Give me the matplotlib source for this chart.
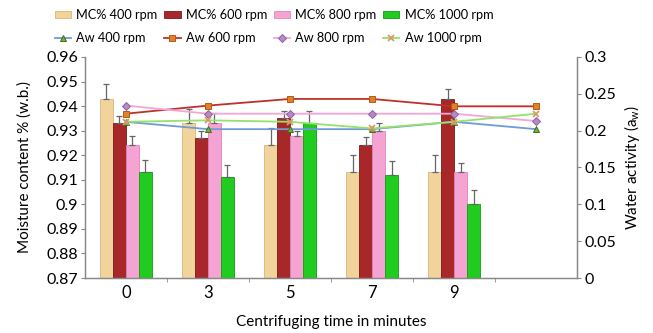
import numpy as np
import matplotlib.pyplot as plt

plt.rcParams['font.family'] = ['Lato', 'DejaVu Sans']

times = ["0", "3", "5", "7", "9", ""]

# moisture content (left axis), 5 time points
mc_400 = [0.943, 0.933, 0.924, 0.913, 0.913]
mc_600 = [0.933, 0.927, 0.935, 0.924, 0.943]
mc_800 = [0.924, 0.933, 0.928, 0.930, 0.913]
mc_1000 = [0.913, 0.911, 0.933, 0.912, 0.900]

err_400 = [0.006, 0.006, 0.007, 0.007, 0.007]
err_600 = [0.003, 0.003, 0.003, 0.0035, 0.004]
err_800 = [0.004, 0.004, 0.002, 0.003, 0.004]
err_1000 = [0.005, 0.005, 0.005, 0.0055, 0.006]

# water activity (right axis), 6 points
aw_400 = [0.212, 0.202, 0.202, 0.202, 0.212, 0.202]
aw_600 = [0.223, 0.234, 0.243, 0.243, 0.233, 0.233]
aw_800 = [0.234, 0.223, 0.223, 0.223, 0.223, 0.213]
aw_1000 = [0.212, 0.214, 0.212, 0.203, 0.212, 0.223]

bar_series = [
    ("MC% 400 rpm", mc_400, err_400, "#f3d39c", "#d9b57a"),
    ("MC% 600 rpm", mc_600, err_600, "#a8282a", "#7a1a1c"),
    ("MC% 800 rpm", mc_800, err_800, "#f5a3d3", "#e084bd"),
    ("MC% 1000 rpm", mc_1000, err_1000, "#1fcc1f", "#129a12"),
]
line_series = [
    ("Aw 400 rpm", aw_400, "#6f9bd6", "^", "#7cae3a", "#3c6f1a"),
    ("Aw 600 rpm", aw_600, "#c0302a", "s", "#e0812a", "#b45a14"),
    ("Aw 800 rpm", aw_800, "#f2a6d6", "D", "#b58ac6", "#8d62a3"),
    ("Aw 1000 rpm", aw_1000, "#93e26a", "x", "#d89a6a", "#d89a6a"),
]

fig = plt.figure(figsize=(6.53, 3.33), dpi=100)
ax = fig.add_axes([0.130, 0.165, 0.754, 0.664])
ax2 = ax.twinx()

x = np.arange(len(times))
xb = x[:len(mc_400)]
width = 0.158
bottom = 0.87

bar_handles = []
for i, (name, vals, err, col, edge) in enumerate(bar_series):
    pos = xb + (i - 1.5) * width
    h = np.array(vals) - bottom
    b = ax.bar(pos, h, width, bottom=bottom, color=col, edgecolor=edge,
               linewidth=0.6, label=name, zorder=2)
    ax.errorbar(pos, vals, yerr=[np.zeros(len(err)), err], fmt="none",
                ecolor="#666666", elinewidth=0.9, capsize=2, capthick=0.9, zorder=3)
    bar_handles.append(b)

line_handles = []
for name, vals, col, mk, mfc, mec in line_series:
    (l,) = ax2.plot(x, vals, color=col, lw=1.3, marker=mk, ms=4.5,
                    markerfacecolor=mfc, markeredgecolor=mec, mew=0.7 if mk != "x" else 1.3,
                    label=name, zorder=4)
    line_handles.append(l)

ax.set_xlim(-0.5, len(times) - 0.5)
ax.set_ylim(0.87, 0.96)
ax.set_yticks(np.round(np.arange(0.87, 0.9601, 0.01), 2))
ax.set_yticklabels([f"{v:g}" for v in np.round(np.arange(0.87, 0.9601, 0.01), 2)])
ax2.set_ylim(0, 0.3)
ax2.set_yticks(np.round(np.arange(0, 0.3001, 0.05), 2))
ax2.set_yticklabels([f"{v:g}" for v in np.round(np.arange(0, 0.3001, 0.05), 2)])

ax.set_xticks(x)
ax.set_xticklabels(times)
ax.set_xticks(np.arange(0.5, len(times) - 0.5, 1), minor=True)
ax.tick_params(axis="x", which="major", length=0, labelsize=12, pad=5)
ax.tick_params(axis="x", which="minor", length=3, color="#888888")
ax.tick_params(axis="y", labelsize=11.5, length=3, color="#888888", pad=2)
ax2.tick_params(axis="y", labelsize=11.5, length=3, color="#888888", pad=2)

for a in (ax, ax2):
    a.spines["top"].set_visible(False)
    for s in ("left", "right", "bottom"):
        a.spines[s].set_color("#888888")
        a.spines[s].set_linewidth(0.9)

ax.set_xlabel("Centrifuging time in minutes", fontsize=11, labelpad=10)
ax.set_ylabel("Moisture content % (w.b.)", fontsize=11, labelpad=10)
ax2.set_ylabel("Water activity (a$_\\mathregular{w}$)", fontsize=11, labelpad=4)

# legend: two rows (bars on top, lines below); matplotlib fills columns first
handles = []
for b, l in zip(bar_handles, line_handles):
    handles += [b, l]
labels = [h.get_label() for h in handles]
fig.legend(handles, labels, ncol=4, loc="upper left", bbox_to_anchor=(0.07, 1.0),
           frameon=False, fontsize=9.2, handlelength=1.3, handleheight=0.5,
           handletextpad=0.4, columnspacing=0.5, labelspacing=0.85, borderpad=0.2)

fig.savefig("out.png", dpi=100)
